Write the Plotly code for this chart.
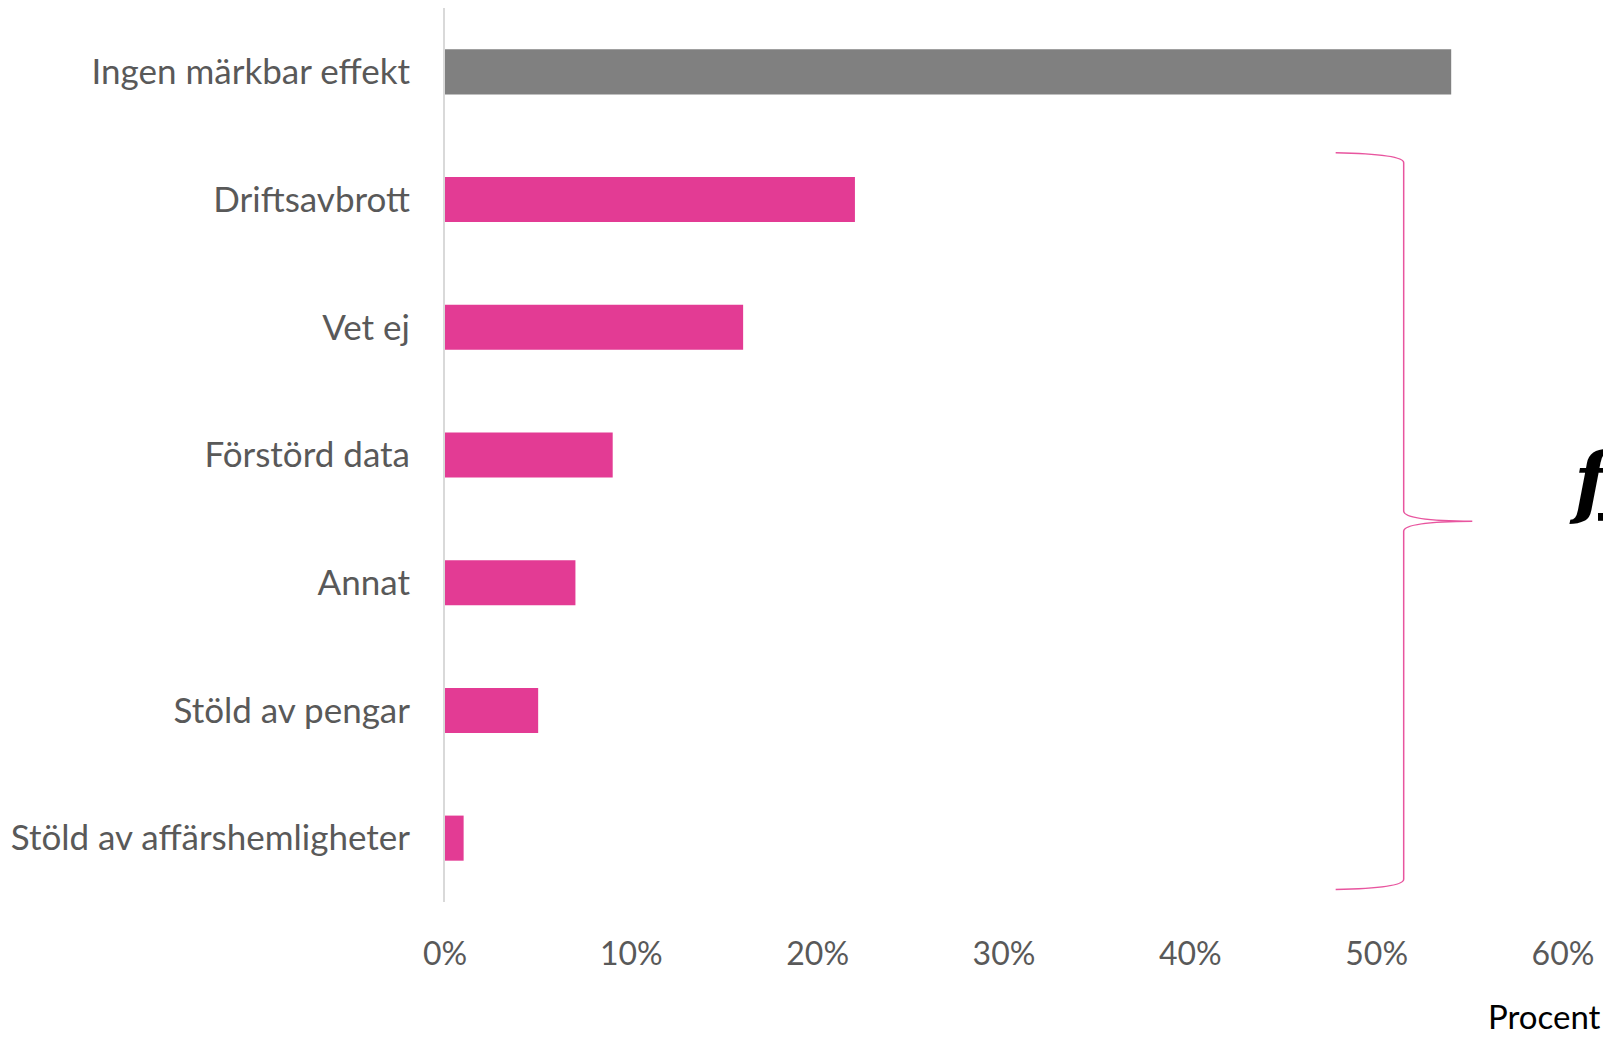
import plotly.graph_objects as go

categories = ["Ingen märkbar effekt", "Driftsavbrott", "Vet ej", "Förstörd data",
              "Annat", "Stöld av pengar", "Stöld av affärshemligheter"]
values = [0.54, 0.22, 0.16, 0.09, 0.07, 0.05, 0.01]
bar_colors = ["#808080"] + ["#E33B94"] * 6
x_tickvals = [0, 0.1, 0.2, 0.3, 0.4, 0.5, 0.6]
x_ticktext = ["0%", "10%", "20%", "30%", "40%", "50%", "60%"]
positions = list(range(len(categories)))

# page has an 8px body margin, so the figure is drawn 8px smaller
W, H = 1603, 1031
FONT = "Lato"
GREY = "#595959"

fig = go.Figure()
fig.add_trace(go.Bar(
    x=values, y=positions, orientation="h",
    marker=dict(color=bar_colors, line=dict(width=0)),
    width=0.353, hoverinfo="skip",
))

# brace (pink curly bracket) in data coordinates
bx0, bx1, bx2 = 0.478, 0.5145, 0.5513
path = (f"M {bx0},0.634 Q {bx1},0.645 {bx1},0.712 "
        f"L {bx1},3.438 Q {bx1},3.515 {bx2},3.519 "
        f"Q {bx1},3.523 {bx1},3.597 L {bx1},6.322 "
        f"Q {bx1},6.392 {bx0},6.402")
fig.add_shape(type="path", path=path, xref="x", yref="y",
              line=dict(color="#E8559F", width=1.5))

fig.add_annotation(text="<b><i><u>följder</u></i></b>", x=1.004, y=0.47,
                   xref="paper", yref="paper", xanchor="left", yanchor="middle",
                   showarrow=False,
                   font=dict(family="DejaVu Serif", size=78, color="black"))
fig.add_annotation(text="Procent", x=1.036, y=-0.128, xref="paper", yref="paper",
                   xanchor="right", yanchor="middle", showarrow=False,
                   font=dict(family=FONT, size=33, color="black"))

fig.update_layout(
    width=W, height=H,
    margin=dict(l=437, r=48, t=0, b=137, autoexpand=False),
    paper_bgcolor="white", plot_bgcolor="white",
    showlegend=False,
    font=dict(family=FONT, size=35, color=GREY),
    xaxis=dict(range=[0, 0.6], tickvals=x_tickvals, ticktext=x_ticktext,
               showgrid=False, zeroline=False, showline=False,
               ticks="", ticklabelstandoff=30,
               tickfont=dict(family=FONT, size=32, color=GREY)),
    yaxis=dict(range=[6.5, -0.5], tickvals=positions, ticktext=categories,
               showgrid=False, zeroline=False, showline=True,
               linecolor="#D9D9D9", linewidth=2, ticks="",
               ticklabelstandoff=26,
               tickfont=dict(family=FONT, size=35, color=GREY)),
)

fig.write_html("out.html")
